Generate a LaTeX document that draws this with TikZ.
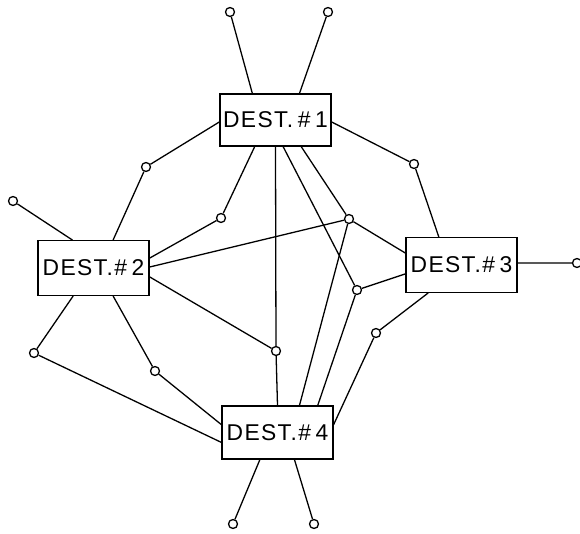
\documentclass[tikz,border=0pt]{standalone}
\usepackage{fontspec}
\setsansfont{Liberation Sans}[LetterSpace=6,WordSpace=0.6]
\begin{document}
\begin{tikzpicture}[x=.03cm,y=-.03cm,line width=1.1pt,
	dest/.style={draw,rectangle,minimum width=3.33cm,minimum height=1.64cm,inner sep=1pt,font=\sffamily\fontsize{19.5}{21}\selectfont},
	term/.style={draw,circle,fill=white,inner sep=0pt,minimum size=.27cm}]
			\useasboundingbox (0,0) rectangle (580,534);
			%destinos%
			\node[dest,minimum height=1.56cm] (d1) at (275.5,120) {DEST. \# 1};
			\node[dest] (d2) at (93.5,268) {DEST.\# 2};
			\node[dest] (d3) at (461.5,265) {DEST.\# 3};
			\node[dest,minimum height=1.59cm] (d4) at (277.5,432.5) {DEST.\# 4};
			%terminales%
			\node[term] (t1) at (230,12) {};
			\node[term] (t2) at (328,12) {};
			\node[term] (t3) at (13,201) {};
			\node[term] (t4) at (577,263) {};
			\node[term] (t5) at (233,524) {};
			\node[term] (t6) at (314,524) {};
			%nodos intermedios%
			\node[term] (j1) at (146,167) {};
			\node[term] (j2) at (414,164) {};
			\node[term] (j3) at (221,218) {};
			\node[term] (j4) at (349,219) {};
			\node[term] (j5) at (357,290) {};
			\node[term] (j6) at (376,333) {};
			\node[term] (j7) at (276,351) {};
			\node[term] (j8) at (34,353) {};
			\node[term] (j9) at (155,371) {};
			%enlaces%
			\draw (d1.131) -- (t1) (d1.48) -- (t2);
			\draw (d1.182) -- (j1) -- (d2.55);
			\draw (d1.358) -- (j2) -- (d3.129);
			\draw (d1.232) -- (j3) -- (d2.10);
			\draw (d1.south) -- (j7) -- (d4.north);
			\draw (d2.351) -- (j7);
			\draw (d1.286) -- (j5) -- (d3.189);
			\draw (j5) -- (d4.34);
			\draw (d1.314) -- (j4) -- (d3.168);
			\draw (j4) -- (d2.1);
			\draw (j4) -- (d4.51);
			\draw (d2.127) -- (t3);
			\draw (d3.2) -- (t4);
			\draw (d3.220) -- (j6) -- (d4.8);
			\draw (d2.234) -- (j8) -- (d4.190);
			\draw (d2.305) -- (j9) -- (d4.172);
			\draw (d4.237) -- (t5) (d4.302) -- (t6);
\end{tikzpicture}
\end{document}
